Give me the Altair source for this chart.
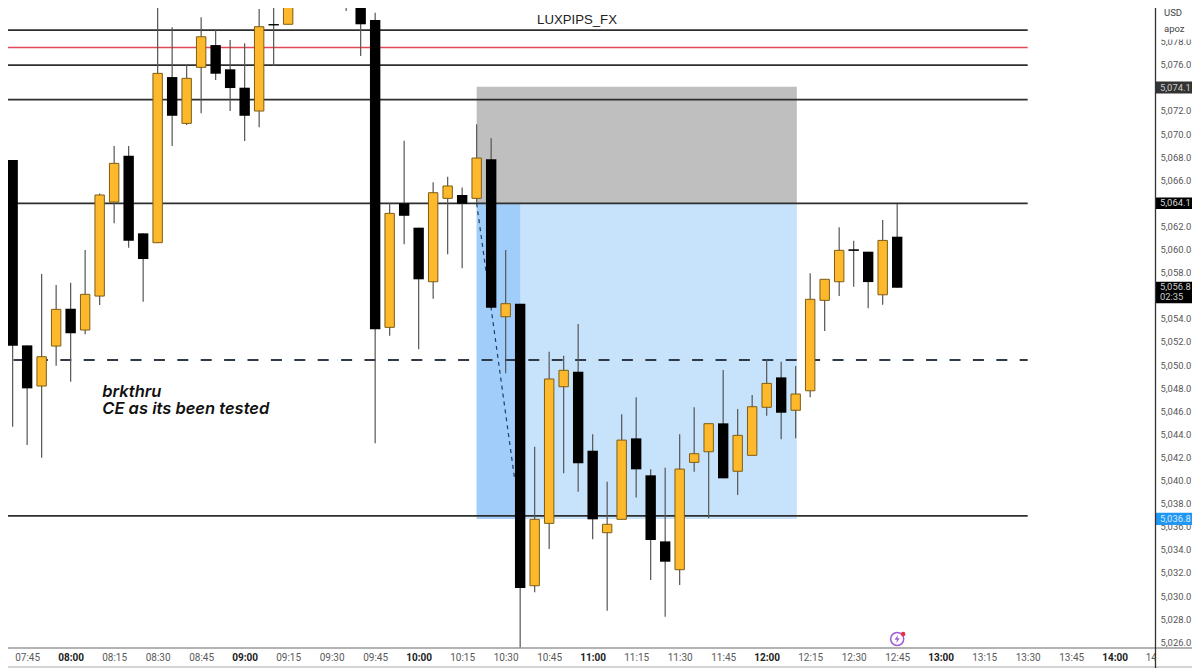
import altair as alt
import pandas as pd

# --- candles (5-minute bars) ---------------------------------------------
times = ["07:40","07:45","07:50","07:55","08:00","08:05","08:10","08:15","08:20","08:25",
         "08:30","08:35","08:40","08:45","08:50","08:55","09:00","09:05","09:10","09:15",
         "09:35","09:40","09:45","09:50","09:55","10:00","10:05","10:10","10:15","10:20",
         "10:25","10:30","10:35","10:40","10:45","10:50","10:55","11:00","11:05","11:10",
         "11:15","11:20","11:25","11:30","11:35","11:40","11:45","11:50","11:55","12:00",
         "12:05","12:10","12:15","12:20","12:25","12:30","12:35","12:40","12:45"]
kinds = list("KKYYKYYYKK" "YKYYKKKYKY" "KKKYKKYYKY" "KYKYYYKKYY" "KKKYYYKYYY" "KYYYYKKYK")
body_top = [5067.75,5051.70,5050.72,5054.82,5054.87,5056.12,5064.72,5067.46,5068.12,5061.40,
            5075.25,5074.93,5074.82,5078.42,5077.70,5075.60,5074.01,5079.29,5079.52,5082.50,
            5084.00,5083.50,5079.87,5063.13,5064.00,5061.89,5064.92,5065.50,5064.72,5067.92,
            5067.81,5055.31,5055.31,5036.64,5048.79,5049.54,5049.42,5042.58,5036.21,5043.50,
            5043.65,5040.45,5034.73,5040.99,5042.32,5044.92,5044.95,5043.91,5046.39,5048.41,
            5048.93,5047.49,5055.69,5057.42,5059.93,5060.02,5059.81,5060.79,5061.11]
body_bot = [5051.67,5047.98,5048.18,5051.64,5052.74,5053.03,5055.97,5064.11,5060.76,5059.18,
            5060.59,5071.58,5070.92,5075.77,5075.22,5073.98,5071.58,5071.99,5079.40,5079.50,
            5082.00,5079.50,5053.09,5053.26,5062.92,5057.42,5057.21,5064.43,5063.96,5064.43,
            5054.96,5054.18,5030.69,5030.89,5036.29,5048.12,5041.49,5036.64,5035.48,5036.64,
            5040.97,5034.85,5032.97,5032.28,5041.57,5042.49,5040.19,5040.80,5042.18,5046.34,
            5045.87,5046.08,5047.77,5055.60,5057.21,5059.88,5057.18,5056.08,5056.69]
wick_high = [5067.75,5051.70,5057.88,5056.92,5057.12,5059.95,5064.85,5068.96,5068.96,5061.40,
             5082.00,5079.24,5075.97,5080.10,5079.00,5078.14,5077.85,5080.82,5083.00,5083.00,
             5085.00,5084.00,5080.50,5064.00,5069.42,5061.89,5065.82,5066.30,5065.38,5070.84,
             5069.63,5059.95,5055.31,5042.92,5051.15,5050.80,5053.55,5044.00,5039.89,5045.73,
             5047.20,5040.97,5041.11,5044.00,5046.34,5044.92,5049.57,5046.19,5047.40,5050.49,
             5050.28,5049.91,5057.94,5057.42,5061.92,5060.76,5059.81,5062.55,5063.94]
wick_low = [5044.66,5043.07,5041.97,5049.94,5048.55,5052.66,5055.19,5062.27,5060.15,5055.48,
            5060.59,5068.96,5070.78,5071.79,5074.67,5071.99,5069.39,5070.58,5075.89,5079.50,
            5080.65,5076.75,5043.22,5052.53,5060.45,5051.36,5055.74,5059.58,5058.37,5064.02,
            5054.96,5049.28,5025.50,5030.32,5034.07,5040.62,5039.03,5034.91,5028.73,5036.64,
            5038.54,5031.38,5028.21,5030.95,5040.76,5036.73,5040.19,5038.74,5042.18,5045.61,
            5043.57,5043.65,5047.20,5052.94,5055.97,5056.78,5054.91,5055.22,5056.69]

# --- levels ---------------------------------------------------------------
line_prices = [5079.00, 5075.97, 5072.97, 5064.00, 5036.94]
red_price = 5077.49
ce_price = 5050.43
box_top, box_mid, box_bot = 5074.10, 5064.00, 5036.67
box_start, box_split, box_end = 620.0, 635.0, 730.4
lines_end = 810.0
diag_times = [620.0, 633.0]
diag_prices = [5064.00, 5040.30]

# --- axis ---------------------------------------------------------------
x_ticks = ["07:45","08:00","08:15","08:30","08:45","09:00","09:15","09:30","09:45",
           "10:00","10:15","10:30","10:45","11:00","11:15","11:30","11:45","12:00",
           "12:15","12:30","12:45","13:00","13:15","13:30","13:45","14:00"]
x_tick_cut = "14:15"
y_ticks = list(range(5026, 5080, 2))
tags = [("5,074.1", 5074.01, 5074.55, 5073.50, "#333333", "#cfcfcf"),
        ("5,064.1", 5064.00, 5064.50, 5063.50, "#000000", "#d8d8d8"),
        ("5,036.8", 5036.70, 5037.20, 5036.15, "#2196f3", "#d6ebff")]
tag_now = ("5,056.8", "02:35", 5057.21, 5055.34, 5056.78, 5055.91)

YELLOW, BLACK, EDGE, WICK = "#fdb92b", "#000000", "#7d5e16", "#555555"
FONT = "Inter"
AXFONT = "Roboto"


def mins(s):
    h, m = s.split(":")
    return int(h) * 60 + int(m)


df = pd.DataFrame({"t": [mins(t) for t in times], "kind": kinds, "top": body_top,
                   "bot": body_bot, "hi": wick_high, "lo": wick_low})

xs = alt.Scale(domain=[458.4, 853.9], nice=False, zero=False, padding=0)
ys = alt.Scale(domain=[5025.5, 5080.91], nice=False, zero=False, padding=0)

x_axis = alt.Axis(
    values=[mins(t) for t in x_ticks], orient="bottom", grid=False, ticks=False, domain=False,
    labelExpr="pad(floor(datum.value/60),2,'0','left')+':'+pad(datum.value%60,2,'0','left')",
    labelFont=AXFONT, labelFontSize=10, labelPadding=4, labelOverlap=False, labelFlush=False,
    labelBound=False, labelAlign="center",
    labelFontWeight={"condition": {"test": "datum.value % 60 == 0", "value": "bold"}, "value": "normal"},
    labelColor={"condition": {"test": "datum.value % 60 == 0", "value": "#222222"}, "value": "#5a5a5a"},
)
y_axis = alt.Axis(
    values=y_ticks, orient="right", grid=False, ticks=False, domain=False, format=",.1f",
    labelFont=AXFONT, labelFontSize=9.4, labelColor="#555555", labelPadding=5,
    labelOverlap=False, labelFlush=False, labelBound=False,
)


def X(f):
    return alt.X(f, type="quantitative", scale=xs, axis=x_axis, title=None)


def Y(f):
    return alt.Y(f, type="quantitative", scale=ys, axis=y_axis, title=None)


boxes = pd.DataFrame({
    "x0": [box_start, box_start, box_start],
    "x1": [box_end, box_end, box_split],
    "y0": [box_mid, box_bot, box_bot],
    "y1": [box_top, box_mid, box_mid],
    "c": ["#bfbfbf", "#c7e2fb", "#a0cdfa"],
})
box_layer = alt.Chart(boxes).mark_rect().encode(
    x=X("x0"), x2="x1", y=Y("y0"), y2="y1", color=alt.Color("c:N", scale=None))

ldf = pd.DataFrame({"x0": 458.4, "x1": lines_end, "p": line_prices})
line_layer = alt.Chart(ldf).mark_rule(color="#2e2e2e", strokeWidth=1.8).encode(x=X("x0"), x2="x1", y=Y("p"))
red_layer = alt.Chart(pd.DataFrame({"x0": [458.4], "x1": [lines_end], "p": [red_price]})).mark_rule(
    color="#e2475a", strokeWidth=1.4).encode(x=X("x0"), x2="x1", y=Y("p"))
dash_layer = alt.Chart(pd.DataFrame({"x0": [460.3], "x1": [lines_end], "p": [ce_price]})).mark_rule(
    color="#2e3a48", strokeWidth=2, strokeDash=[11, 12.4]).encode(x=X("x0"), x2="x1", y=Y("p"))
diag_layer = alt.Chart(pd.DataFrame({"t": diag_times, "p": diag_prices})).mark_line(
    color="#1f3f66", strokeWidth=1.2, strokeDash=[4, 4]).encode(x=X("t"), y=Y("p"))

wick = alt.Chart(df).mark_rule(color=WICK, strokeWidth=1.2, clip=True).encode(x=X("t"), y=Y("lo"), y2="hi")
black = alt.Chart(df[df.kind == "K"]).mark_bar(size=10.4, color=BLACK, clip=True).encode(x=X("t"), y=Y("bot"), y2="top")
yellow = alt.Chart(df[df.kind == "Y"]).mark_bar(size=9.4, color=YELLOW, stroke=EDGE, strokeWidth=1, clip=True).encode(
    x=X("t"), y=Y("bot"), y2="top")

title = alt.Chart(pd.DataFrame({"t": [654.6], "p": [5079.87], "s": ["LUXPIPS_FX"]})).mark_text(
    font="Liberation Sans", fontSize=13.2, color="#222222", align="center", baseline="middle").encode(
    x=X("t"), y=Y("p"), text="s:N")
note = alt.Chart(pd.DataFrame({"t": [490.9, 490.9], "p": [5047.64, 5046.16],
                               "s": ["brkthru", "CE as its been tested"]})).mark_text(
    font=FONT, fontSize=16.5, fontWeight=600, fontStyle="italic", color="#111111", align="left", baseline="middle").encode(
    x=X("t"), y=Y("p"), text="s:N")

# lightning badge at the 12:45 bar
badge_t = mins("12:45")
badge_df = pd.DataFrame({"t": [badge_t]})
badge_ring = alt.Chart(badge_df).mark_point(size=170, filled=False, color="#a05cd6", strokeWidth=1.5, opacity=1).encode(
    x=X("t"), y=alt.value(631))
badge_bolt = alt.Chart(badge_df).mark_point(
    shape="M0.2,-1 L-0.6,0.15 L-0.05,0.15 L-0.2,1 L0.6,-0.15 L0.05,-0.15 Z",
    size=70, filled=True, color="#a05cd6", opacity=1).encode(x=X("t"), y=alt.value(631))
badge_dot = alt.Chart(badge_df).mark_circle(size=20, color="#e8304a", opacity=1).encode(
    x=X("t"), xOffset=alt.value(6), y=alt.value(626))

# the last time label runs under the price panel
cut_label = alt.Chart(pd.DataFrame({"t": [mins(x_tick_cut)], "s": [x_tick_cut]})).mark_text(
    font=AXFONT, fontSize=10, color="#5a5a5a", align="center", baseline="middle").encode(
    x=X("t"), y=alt.value(650), text="s:N")

# right-hand panel
PX0, PX1 = 1147.5, 1184
cover = alt.Chart(pd.DataFrame({"a": [0]})).mark_rect(color="white").encode(
    x=alt.value(1147.5), x2=alt.value(1184), y=alt.value(641), y2=alt.value(658))
cover_top = alt.Chart(pd.DataFrame({"a": [0]})).mark_rect(color="white").encode(
    x=alt.value(1148), x2=alt.value(1184), y=alt.value(0), y2=alt.value(31.5))
tdf = pd.DataFrame(tags, columns=["s", "p", "hi", "lo", "bg", "fg"])
tag_rect = alt.Chart(tdf).mark_rect().encode(
    x=alt.value(PX0), x2=alt.value(PX1), y=Y("lo"), y2="hi", color=alt.Color("bg:N", scale=None))
tag_text = alt.Chart(tdf).mark_text(font=AXFONT, fontSize=9.4, align="left", baseline="middle").encode(
    x=alt.value(1152), y=Y("p"), text="s:N", color=alt.Color("fg:N", scale=None))
ndf = pd.DataFrame({"s": [tag_now[0], tag_now[1]], "p": [tag_now[4], tag_now[5]]})
now_rect = alt.Chart(pd.DataFrame({"hi": [tag_now[2]], "lo": [tag_now[3]]})).mark_rect(color="#000000").encode(
    x=alt.value(PX0), x2=alt.value(PX1), y=Y("lo"), y2="hi")
now_text = alt.Chart(ndf).mark_text(font=AXFONT, fontSize=9.4, color="#cfcfcf", align="left", baseline="middle").encode(
    x=alt.value(1152), y=Y("p"), text="s:N")
hdr_usd = alt.Chart(pd.DataFrame({"s": ["USD"]})).mark_text(
    font=AXFONT, fontSize=9.5, color="#444444", align="left", baseline="middle").encode(
    x=alt.value(1156), y=alt.value(4.7), text="s:N")
hdr_apoz = alt.Chart(pd.DataFrame({"s": ["apoz"]})).mark_text(
    font=AXFONT, fontSize=9.5, color="#444444", align="left", baseline="middle").encode(
    x=alt.value(1156), y=alt.value(21), text="s:N")
v_rule = alt.Chart(pd.DataFrame({"a": [0]})).mark_rule(color="#333333", strokeWidth=1.3).encode(
    x=alt.value(1147.5), y=alt.value(0), y2=alt.value(660))
h_rule = alt.Chart(pd.DataFrame({"a": [0]})).mark_rule(color="#9a9a9a", strokeWidth=1.5).encode(
    x=alt.value(0), x2=alt.value(1184), y=alt.value(640))
b_rule = alt.Chart(pd.DataFrame({"a": [0]})).mark_rule(color="#aaaaaa", strokeWidth=1.2).encode(
    x=alt.value(0), x2=alt.value(1184), y=alt.value(659))

chart = alt.layer(
    box_layer, line_layer, red_layer, dash_layer, diag_layer, wick, black, yellow, title, note,
    badge_ring, badge_bolt, badge_dot, cut_label, cover, cover_top, tag_rect, tag_text, now_rect, now_text,
    hdr_usd, hdr_apoz, h_rule, b_rule, v_rule,
).properties(
    width=1147, height=640,
    autosize=alt.AutoSizeParams(type="none"),
    padding={"left": 0, "top": 0, "right": 37, "bottom": 20},
    background="white",
).configure_view(stroke=None)

chart.save("out.html", embed_options={"renderer": "svg", "actions": False})
